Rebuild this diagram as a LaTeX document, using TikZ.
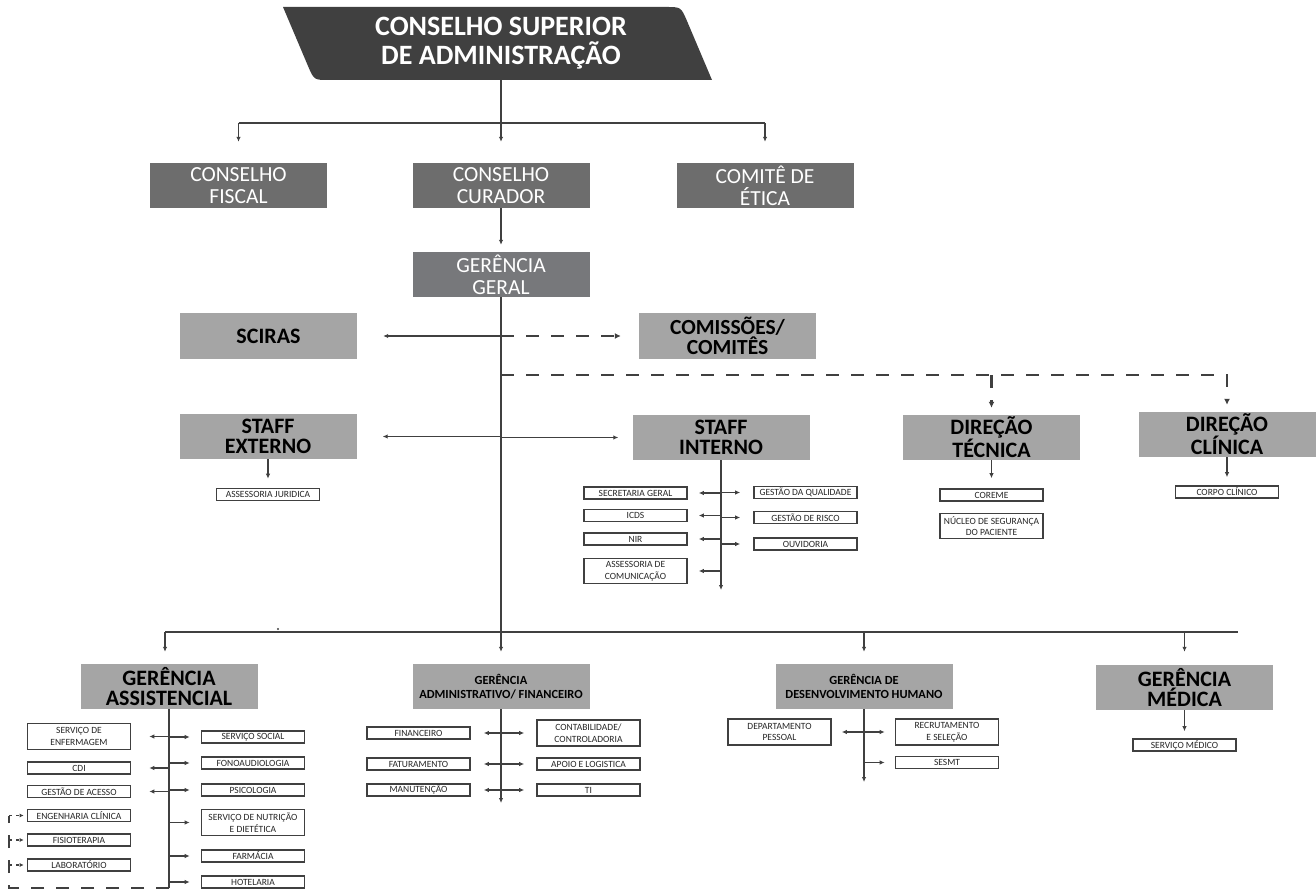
\documentclass[tikz,border=0pt]{standalone}
\usepackage{fontspec}
\setmainfont{Carlito}
\usetikzlibrary{arrows.meta}

\definecolor{csagray}{HTML}{404040}
\definecolor{boxgray}{HTML}{6D6D6D}
\definecolor{geralgray}{HTML}{77787B}
\definecolor{unitgray}{HTML}{A5A5A5}
\definecolor{linegray}{HTML}{404040}

\tikzset{
	board/.style={fill=boxgray, text=white, minimum width=177pt, minimum height=45pt, inner sep=0pt, align=center, font=\fontsize{21.5}{22}\selectfont},
	head/.style={fill=unitgray, text=black, minimum width=177pt, minimum height=45pt, inner sep=0pt, align=center, font=\bfseries\fontsize{22}{20}\selectfont},
	headsmall/.style={head, font=\bfseries\fontsize{12.4}{14}\selectfont},
	sector/.style={draw=linegray, line width=1.6pt, fill=white, text=black!85, minimum width=103pt, minimum height=12pt, inner sep=0pt, align=center, font=\fontsize{9.5}{11.5}\selectfont},
	link/.style={draw=linegray, line width=1.6pt},
	arr/.style={draw=linegray, line width=1.3pt, -{Latex[length=5pt,width=4.5pt]}},
	dashlink/.style={draw=linegray, line width=2.5pt, dash pattern=on 13pt off 12pt},
	dasharr/.style={dashlink, -{Latex[length=6pt,width=6pt]}},
	dotarr/.style={draw=linegray, line width=1.6pt, dash pattern=on 3pt off 4pt, -{Latex[length=4pt,width=4pt]}},
}

\begin{document}
\begin{tikzpicture}[x=1pt, y=-1pt]
\useasboundingbox (0,0) rectangle (1316,890);

	%Conselho superior
\fill[csagray] (283,7) -- (666,7) .. controls (681,7) .. (687,21) -- (712,80) -- (329,80) .. controls (314,80) .. (308,66) -- cycle;
\node[text=white, font=\bfseries\fontsize{28}{29}\selectfont, align=center, minimum height=73pt, inner sep=0pt] (csa) at (501,43.5) {CONSELHO SUPERIOR\\DE ADMINISTRAÇÃO};


	%Conselhos
\node[board] (fiscal) at (238.5,185.5) {CONSELHO\\FISCAL};
\node[board] (curador) at (501,185.5) {CONSELHO\\CURADOR};
\node[board] (etica) at (765,185.5) {COMITÊ DE\\ÉTICA};

\coordinate (top) at (501,123);
\draw[link] (top -| fiscal) -- (top -| etica);
\draw[arr, shorten >=21pt] (csa.south) -- (curador);
\draw[arr, shorten >=21pt] (top -| fiscal) -- (fiscal);
\draw[arr, shorten >=21pt] (top -| etica) -- (etica);


	%Gerencia geral
\node[board, fill=geralgray] (geral) at (501,274.5) {GERÊNCIA\\GERAL};
\draw[arr, shorten >=7pt] (curador) -- (geral);


	%SCIRAS and comissoes
\node[head] (sciras) at (268.5,336) {SCIRAS};
\node[head, font=\bfseries\fontsize{21.5}{17}\selectfont] (comissoes) at (727.5,336) {COMISSÕES/\\COMITÊS};
\draw[arr, shorten >=26pt] (geral.south |- sciras) -- (sciras);
\draw[dasharr, shorten >=18pt] (geral.south |- comissoes) -- (comissoes);


	%Direcoes
\coordinate (dir) at (501,375);
\node[head] (tecnica) at (991.5,437.5) {DIREÇÃO\\TÉCNICA};
\node[head] (clinica) at (1227,434.5) {DIREÇÃO\\CLÍNICA};
\draw[dasharr, shorten >=7pt] (dir) -- (dir -| clinica) -- (clinica);
\draw[dasharr, shorten >=7pt] (dir -| tecnica) -- (tecnica);

\node[sector] (coreme) at (991.5,495) {COREME};
\node[sector, minimum height=25pt] (nucleo) at (991.5,526) {NÚCLEO DE SEGURANÇA\\DO PACIENTE};
\draw[arr, shorten >=10pt] (tecnica) -- (coreme);

\node[sector] (corpo) at (1227,492) {CORPO CLÍNICO};
\draw[arr, shorten >=8pt] (clinica) -- (corpo);


	%Staff externo
\node[head] (externo) at (268,436.5) {STAFF\\EXTERNO};
\draw[arr, shorten >=26pt] (geral.south |- externo) -- (externo);

\node[sector] (juridica) at (268,494.5) {ASSESSORIA JURIDICA};
\draw[arr, shorten >=9pt] (externo) -- (juridica);


	%Staff interno
\node[head] (interno) at (721,437.5) {STAFF\\INTERNO};
\draw[arr, shorten >=14pt] (geral.south |- interno) -- (interno);
\coordinate (siEnd) at (721,590);
\draw[arr] (interno) -- (siEnd);

\node[sector] (secretaria) at (635.5,493) {SECRETARIA GERAL};
\node[sector] (icds) at (635.5,515.5) {ICDS};
\node[sector] (nir) at (635.5,539) {NIR};
\node[sector, minimum height=25pt] (comunicacao) at (635.5,571) {ASSESSORIA DE\\COMUNICAÇÃO};
\node[sector] (qualidade) at (805.5,492.5) {GESTÃO DA QUALIDADE};
\node[sector] (risco) at (805.5,517.5) {GESTÃO DE RISCO};
\node[sector] (ouvidoria) at (805.5,544) {OUVIDORIA};

\draw[arr, shorten >=11pt] (interno.south |- secretaria) -- (secretaria);
\draw[arr, shorten >=11pt] (interno.south |- icds) -- (icds);
\draw[arr, shorten >=11pt] (interno.south |- nir) -- (nir);
\draw[arr, shorten >=11pt] (interno.south |- comunicacao) -- (comunicacao);
\draw[arr, shorten >=13pt] (interno.south |- qualidade) -- (qualidade);
\draw[arr, shorten >=13pt] (interno.south |- risco) -- (risco);
\draw[arr, shorten >=13pt] (interno.south |- ouvidoria) -- (ouvidoria);


	%Gerencias
\node[head] (assist) at (169,686.5) {GERÊNCIA\\ASSISTENCIAL};
\node[headsmall] (adm) at (501,686.5) {GERÊNCIA\\ADMINISTRATIVO/ FINANCEIRO};
\node[headsmall] (dh) at (864,686.5) {GERÊNCIA DE\\DESENVOLVIMENTO HUMANO};
\node[head] (medica) at (1184.5,687.5) {GERÊNCIA\\MÉDICA};

\coordinate (bus) at (501,632);
\coordinate (busL) at (165,632);
\coordinate (busR) at (1238,632);
\draw[link] (busL) -- (busR);
\fill[linegray] (278,629) circle (1.2pt);
\draw[arr, shorten >=12pt] (geral) -- (adm);
\draw[arr, shorten >=12pt] (busL) -- (busL |- assist.north);
\draw[arr, shorten >=12pt] (bus -| dh) -- (dh);
\draw[arr, shorten >=13pt] (bus -| medica) -- (medica);


	%Gerencia assistencial
\coordinate (asB) at (169,888);
\coordinate (dashL) at (9,888);
\draw[link] (assist) -- (asB);

\node[sector, minimum height=26pt] (enfermagem) at (79,736.5) {SERVIÇO DE\\ENFERMAGEM};
\node[sector] (cdi) at (79,768) {CDI};
\node[sector] (acesso) at (79,791.5) {GESTÃO DE ACESSO};
\node[sector] (engenharia) at (79,815.5) {ENGENHARIA CLÍNICA};
\node[sector] (fisioterapia) at (79,840) {FISIOTERAPIA};
\node[sector] (laboratorio) at (79,865) {LABORATÓRIO};
\node[sector] (social) at (253,737) {SERVIÇO SOCIAL};
\node[sector] (fono) at (253,763) {FONOAUDIOLOGIA};
\node[sector] (psicologia) at (253,790) {PSICOLOGIA};
\node[sector, minimum height=26pt] (nutricao) at (253,822.5) {SERVIÇO DE NUTRIÇÃO\\E DIETÉTICA};
\node[sector] (farmacia) at (253,856) {FARMÁCIA};
\node[sector] (hotelaria) at (253,882) {HOTELARIA};

\draw[arr, shorten >=18pt] (assist.south |- enfermagem) -- (enfermagem);
\draw[arr, shorten >=18pt] (assist.south |- cdi) -- (cdi);
\draw[arr, shorten >=18pt] (assist.south |- acesso) -- (acesso);
\draw[arr, shorten >=11pt] (assist.south |- social) -- (social);
\draw[arr, shorten >=11pt] (assist.south |- fono) -- (fono);
\draw[arr, shorten >=11pt] (assist.south |- psicologia) -- (psicologia);
\draw[arr, shorten >=11pt] (assist.south |- nutricao) -- (nutricao);
\draw[arr, shorten >=11pt] (assist.south |- farmacia) -- (farmacia);
\draw[arr, shorten >=11pt] (assist.south |- hotelaria) -- (hotelaria);

\draw[dashlink] (asB) -- (dashL) -- (dashL |- engenharia);
\draw[dotarr, shorten >=3pt] (dashL |- engenharia) -- (engenharia);
\draw[dotarr, shorten >=3pt] (dashL |- fisioterapia) -- (fisioterapia);
\draw[dotarr, shorten >=3pt] (dashL |- laboratorio) -- (laboratorio);


	%Gerencia administrativo financeiro
\coordinate (admEnd) at (501,803);
\draw[arr] (adm) -- (admEnd);

\node[sector] (financeiro) at (418.5,733) {FINANCEIRO};
\node[sector] (faturamento) at (418.5,764) {FATURAMENTO};
\node[sector] (manutencao) at (418.5,790) {MANUTENÇÃO};
\node[sector, minimum height=26pt] (contabilidade) at (588.5,733) {CONTABILIDADE/\\CONTROLADORIA};
\node[sector] (apoio) at (588.5,764) {APOIO E LOGISTICA};
\node[sector] (ti) at (588.5,790) {TI};

\draw[arr, shorten >=13pt] (adm.south |- financeiro) -- (financeiro);
\draw[arr, shorten >=13pt] (adm.south |- faturamento) -- (faturamento);
\draw[arr, shorten >=13pt] (adm.south |- manutencao) -- (manutencao);
\draw[arr, shorten >=12pt] (adm.south |- contabilidade) -- (contabilidade);
\draw[arr, shorten >=12pt] (adm.south |- apoio) -- (apoio);
\draw[arr, shorten >=12pt] (adm.south |- ti) -- (ti);


	%Gerencia desenvolvimento humano
\coordinate (dhEnd) at (864,782);
\draw[arr] (dh) -- (dhEnd);

\node[sector, minimum height=26pt] (pessoal) at (779.5,732) {DEPARTAMENTO\\PESSOAL};
\node[sector, minimum height=26pt] (recrutamento) at (947,732) {RECRUTAMENTO\\E SELEÇÃO};
\node[sector] (sesmt) at (947,762.5) {SESMT};

\draw[arr, shorten >=10pt] (dh.south |- pessoal) -- (pessoal);
\draw[arr, shorten >=10pt] (dh.south |- recrutamento) -- (recrutamento);
\draw[arr, shorten >=10pt] (dh.south |- sesmt) -- (sesmt);


	%Gerencia medica
\node[sector] (servmedico) at (1184.5,745) {SERVIÇO MÉDICO};
\draw[arr, shorten >=7pt] (medica) -- (servmedico);

\end{tikzpicture}
\end{document}
